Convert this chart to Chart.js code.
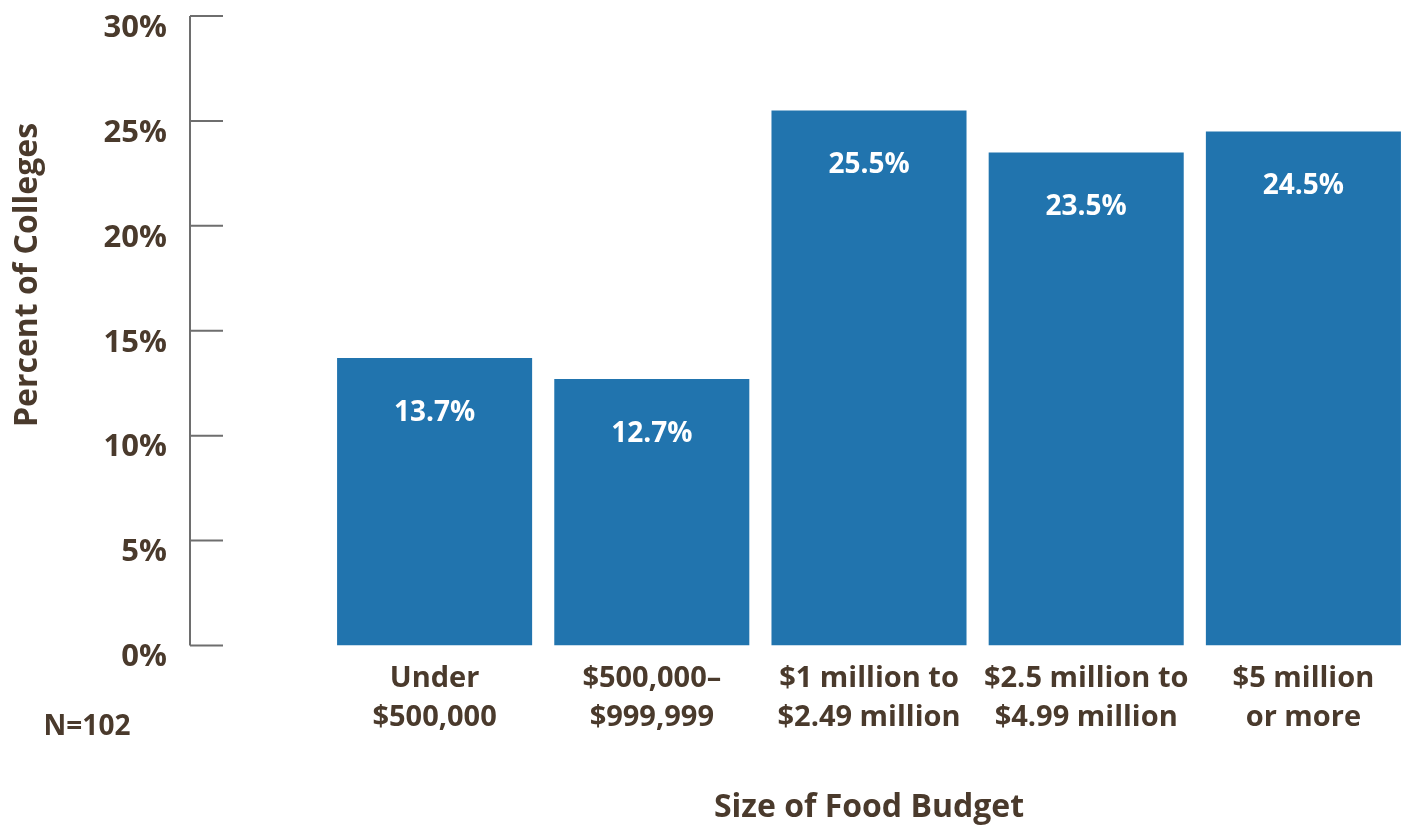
<!DOCTYPE html>
<html>
<head>
<meta charset="utf-8">
<title>Food budget</title>
<script src="https://cdn.jsdelivr.net/npm/chart.js@4/dist/chart.umd.min.js"></script>
<style>
  html, body { margin: 0; padding: 0; background: #fff; overflow: hidden; }
  /* canvas runs a few px past the frame so the last bar sits at the edge */
  #wrap { width: 1406px; height: 825px; position: relative; overflow: hidden; }
</style>
</head>
<body>
<div id="wrap"><canvas id="chartCanvas"></canvas></div>
<script>
// budget bands and share of colleges in each
const budgetLabels = [
    ['Under', '$500,000'],
    ['$500,000\u2013', '$999,999'],
    ['$1 million to', '$2.49 million'],
    ['$2.5 million to', '$4.99 million'],
    ['$5 million', 'or more']
];
const percentValues = [13.7, 12.7, 25.5, 23.5, 24.5];
const yTicks = [0, 5, 10, 15, 20, 25, 30];
const sampleNote = 'N=102';
const yTitle = 'Percent of Colleges';
const xTitle = 'Size of Food Budget';

const brown = '#4a3a2c';
const blue = '#2174ae';
const axisGrey = '#6e6e6e';
const fontFamily = '"Open Sans", Lato, sans-serif';

// y axis line sits well left of the bars, with short ticks pointing inward
const axisPlugin = {
    id: 'axisStubs',
    afterDraw(chart) {
        const ctx = chart.ctx;
        const y = chart.scales.y;
        const axisX = 190;
        ctx.save();
        ctx.strokeStyle = axisGrey;
        ctx.lineWidth = 2;
        ctx.beginPath();
        ctx.moveTo(axisX, y.getPixelForValue(yTicks[yTicks.length - 1]));
        ctx.lineTo(axisX, y.getPixelForValue(yTicks[0]));
        yTicks.forEach(function (t) {
            const py = y.getPixelForValue(t);
            ctx.moveTo(axisX, py);
            ctx.lineTo(axisX + 33, py);
        });
        ctx.stroke();

        // rotated axis title and sample size note
        ctx.fillStyle = brown;
        ctx.font = 'bold 32px ' + fontFamily;
        ctx.textAlign = 'center';
        ctx.textBaseline = 'middle';
        ctx.translate(28, 275);
        ctx.rotate(-Math.PI / 2);
        ctx.fillText(yTitle, 0, 0);
        ctx.restore();

        ctx.save();
        ctx.fillStyle = brown;
        ctx.font = 'bold 28px ' + fontFamily;
        ctx.textAlign = 'center';
        ctx.textBaseline = 'middle';
        ctx.fillText(sampleNote, 87, 727);
        ctx.restore();
    }
};

// value printed near the top of each bar
const valueLabels = {
    id: 'valueLabels',
    afterDatasetsDraw(chart) {
        const ctx = chart.ctx;
        const meta = chart.getDatasetMeta(0);
        ctx.save();
        ctx.fillStyle = '#ffffff';
        ctx.font = 'bold 28px ' + fontFamily;
        ctx.textAlign = 'center';
        ctx.textBaseline = 'middle';
        meta.data.forEach(function (bar, i) {
            ctx.fillText(percentValues[i].toFixed(1) + '%', bar.x, bar.y + 55);
        });
        ctx.restore();
    }
};

const config = {
    type: 'bar',
    data: {
        labels: budgetLabels,
        datasets: [{
            data: percentValues,
            backgroundColor: blue,
            borderWidth: 0,
            barPercentage: 0.898,
            categoryPercentage: 1
        }]
    },
    options: {
        responsive: false,
        animation: false,
        events: [],
        layout: { padding: { top: 16, right: 0, left: 0, bottom: 0 } },
        plugins: {
            legend: { display: false },
            tooltip: { enabled: false }
        },
        scales: {
            x: {
                offset: true,
                grid: { display: false, drawTicks: false },
                border: { display: false },
                ticks: {
                    color: brown,
                    font: { family: fontFamily, size: 29, weight: 'bold', lineHeight: 1.35 },
                    padding: 14,
                    maxRotation: 0,
                    autoSkip: false
                },
                title: {
                    display: true,
                    text: xTitle,
                    color: brown,
                    font: { family: fontFamily, size: 32, weight: 'bold', lineHeight: 1.1 },
                    padding: { top: 38, bottom: 0 }
                }
            },
            y: {
                min: 0,
                max: 30,
                grid: { display: false, drawTicks: false },
                border: { display: false },
                afterFit: function (scale) {
                    scale.width = 326;
                    scale.paddingTop = 0;
                    scale.paddingBottom = 0;
                },
                afterBuildTicks: function (scale) {
                    scale.ticks = yTicks.map(function (v) { return { value: v }; });
                },
                ticks: {
                    color: brown,
                    font: { family: fontFamily, size: 31, weight: 'bold' },
                    padding: 159,
                    labelOffset: 12,
                    callback: function (v) { return v + '%'; }
                }
            }
        }
    },
    plugins: [axisPlugin, valueLabels]
};

const canvas = document.getElementById('chartCanvas');
canvas.width = 1412;
canvas.height = 825;
new Chart(canvas.getContext('2d'), config);
</script>
</body>
</html>
